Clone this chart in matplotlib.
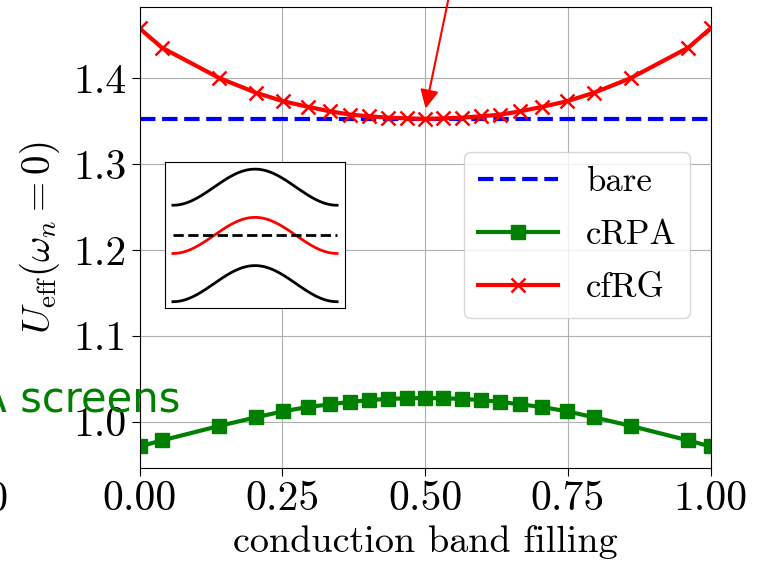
import matplotlib
matplotlib.use("Agg")
import matplotlib.pyplot as plt
import numpy as np

plt.rcParams['font.family'] = 'serif'
plt.rcParams['font.serif'] = ['cmr10']
plt.rcParams['mathtext.fontset'] = 'cm'
plt.rcParams['axes.formatter.use_mathtext'] = True

# filling values (symmetric k-grid)
filling = [0.0, 0.039, 0.14, 0.204, 0.252, 0.295, 0.333, 0.369, 0.402, 0.435, 0.468, 0.5,
           0.532, 0.565, 0.598, 0.631, 0.667, 0.705, 0.748, 0.796, 0.86, 0.961, 1.0]
u_bare = 1.353
u_crpa = [0.971, 0.978, 0.995, 1.005, 1.012, 1.017, 1.020, 1.023, 1.025, 1.0265, 1.027, 1.0276,
          1.027, 1.0265, 1.025, 1.023, 1.020, 1.017, 1.012, 1.005, 0.995, 0.978, 0.971]
u_cfrg = [1.458, 1.4356, 1.400, 1.383, 1.373, 1.3666, 1.3614, 1.3575, 1.3556, 1.354, 1.3532, 1.3525,
          1.3532, 1.354, 1.3556, 1.3575, 1.3614, 1.3666, 1.373, 1.383, 1.400, 1.4356, 1.458]
yticks = [1.0, 1.1, 1.2, 1.3, 1.4]
xticks = [0.0, 0.25, 0.5, 0.75, 1.0]

# inset: three cosine bands, middle one at the Fermi level
band_offsets = [2.67, 0.0, -2.67]
band_colors = ['black', 'red', 'black']

fig = plt.figure(figsize=(7.65, 5.63), dpi=100)
ax = fig.add_axes([0.1824, 0.1696, 0.7465, 0.8174])

ax.plot([0, 1], [u_bare, u_bare], '--', color='blue', lw=3, label='bare')
ax.plot(filling, u_crpa, '-s', color='green', lw=3, ms=10, label='cRPA')
ax.plot(filling, u_cfrg, '-x', color='red', lw=3, ms=10.5, mew=1.8, label='cfRG')

ax.set_xlim(0, 1)
ax.set_ylim(0.9465, 1.4825)
ax.set_xticks(xticks)
ax.set_xticklabels(['%.2f' % t for t in xticks])
ax.set_yticks(yticks)
ax.set_yticklabels(['%.1f' % t for t in yticks])
ax.tick_params(labelsize=30, length=6)
ax.grid(True)
ax.set_xlabel('conduction band filling', fontsize=27.5, labelpad=5)
ax.set_ylabel(r'$U_{\rm eff}(\omega_n=0)$', fontsize=28, labelpad=8)

ax.legend(loc='upper right', bbox_to_anchor=(0.964, 0.685), fontsize=25,
          handlelength=2.3, labelspacing=0.62, borderaxespad=0, fancybox=True)

# arrow coming from a label above the visible area
ax.annotate('', xy=(0.5, 1.3615), xytext=(0.559, 1.55), annotation_clip=False,
            arrowprops=dict(arrowstyle='-|>', color='red', lw=1.5, mutation_scale=28))

# text from neighbouring panel, cut by the crop
ax.text(0.071, 1.0117, 'cRPA screens', color='green', fontsize=30, family='DejaVu Sans',
        ha='right', va='baseline', clip_on=False)
fig.text(8 / 765, 1 - 511 / 563, '1.00', fontsize=30, ha='right', va='baseline')

ins = fig.add_axes([0.2153, 0.4535, 0.2361, 0.2583])
k = np.linspace(-np.pi, np.pi, 200)
for off, c in zip(band_offsets, band_colors):
    ins.plot(k, off + np.cos(k), color=c, lw=2)
ins.plot([-np.pi, np.pi], [0, 0], '--', color='black', lw=2)
ins.set_ylim(-4.0, 4.05)
ins.set_xticks([])
ins.set_yticks([])

fig.savefig('out.png', dpi=100)
